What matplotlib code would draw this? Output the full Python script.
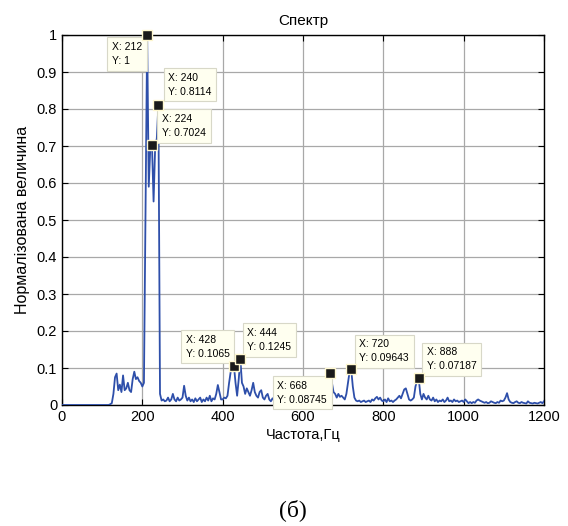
import numpy as np
import matplotlib
matplotlib.use("Agg")
import matplotlib.pyplot as plt

plt.rcParams['font.family'] = ['Liberation Sans', 'DejaVu Sans']

# Frequency grid (Hz), 4 Hz step
freq = list(range(0, 1201, 4))

amp_000 = [0.0] * 25
amp_100 = [0, 0, 0, 0, 0, 0.002, 0.005, 0.03, 0.075, 0.085, 0.04, 0.055, 0.035, 0.08, 0.04,
           0.045, 0.06, 0.04, 0.035, 0.07, 0.09, 0.07, 0.075, 0.065, 0.06]
amp_200 = [0.05, 0.06, 0.52, 1.0, 0.59, 0.70, 0.7024, 0.55, 0.70, 0.72, 0.8114, 0.03, 0.012,
           0.015, 0.01, 0.012, 0.02, 0.01, 0.015, 0.03, 0.015, 0.01, 0.02, 0.012, 0.015]
amp_300 = [0.02, 0.052, 0.025, 0.012, 0.02, 0.01, 0.015, 0.008, 0.018, 0.01, 0.015, 0.02, 0.008,
           0.015, 0.01, 0.02, 0.012, 0.025, 0.01, 0.018, 0.015, 0.03, 0.054, 0.035, 0.015]
amp_400 = [0.015, 0.02, 0.018, 0.025, 0.06, 0.09, 0.1, 0.1065, 0.06, 0.025, 0.07, 0.1245, 0.06,
           0.05, 0.03, 0.045, 0.035, 0.025, 0.04, 0.06, 0.035, 0.025, 0.02, 0.035, 0.04]
amp_500 = [0.02, 0.015, 0.025, 0.03, 0.015, 0.01, 0.018, 0.012, 0.015, 0.01, 0.02, 0.012, 0.015,
           0.01, 0.018, 0.012, 0.015, 0.01, 0.02, 0.012, 0.015, 0.01, 0.018, 0.012, 0.015]
amp_600 = [0.01, 0.02, 0.012, 0.015, 0.01, 0.018, 0.012, 0.02, 0.01, 0.015, 0.012, 0.01, 0.015,
           0.012, 0.02, 0.05, 0.08, 0.08745, 0.06, 0.035, 0.03, 0.02, 0.03, 0.022, 0.025]
amp_700 = [0.02, 0.015, 0.03, 0.06, 0.09, 0.09643, 0.05, 0.02, 0.012, 0.01, 0.012, 0.008, 0.01,
           0.012, 0.008, 0.01, 0.012, 0.008, 0.015, 0.012, 0.018, 0.022, 0.015, 0.02, 0.012]
amp_800 = [0.01, 0.015, 0.008, 0.018, 0.01, 0.012, 0.008, 0.012, 0.015, 0.02, 0.025, 0.018, 0.03,
           0.042, 0.045, 0.03, 0.015, 0.012, 0.015, 0.02, 0.05, 0.065, 0.07187, 0.03, 0.015]
amp_900 = [0.03, 0.02, 0.015, 0.025, 0.015, 0.012, 0.02, 0.01, 0.015, 0.008, 0.012, 0.01, 0.015,
           0.008, 0.012, 0.02, 0.01, 0.012, 0.008, 0.015, 0.01, 0.012, 0.008, 0.01, 0.012]
amp_1000 = [0.008, 0.015, 0.01, 0.005, 0.008, 0.005, 0.008, 0.006, 0.012, 0.015, 0.012, 0.01,
            0.008, 0.006, 0.008, 0.005, 0.006, 0.01, 0.008, 0.006, 0.005, 0.008, 0.006, 0.012, 0.01]
amp_1100 = [0.012, 0.02, 0.032, 0.015, 0.008, 0.006, 0.005, 0.008, 0.01, 0.006, 0.005, 0.008,
            0.006, 0.005, 0.004, 0.01, 0.006, 0.005, 0.004, 0.006, 0.005, 0.004, 0.006, 0.008,
            0.005, 0.01]
amp = (amp_000 + amp_100 + amp_200 + amp_300 + amp_400 + amp_500 + amp_600 + amp_700 +
       amp_800 + amp_900 + amp_1000 + amp_1100)

# Data tips
tip_x = [212, 240, 224, 428, 444, 668, 720, 888]
tip_y = [1, 0.8114, 0.7024, 0.1065, 0.1245, 0.08745, 0.09643, 0.07187]
tip_off = [(-35, -7), (10, 32), (10, 31), (-48, 31), (7, 31), (-53, -8), (8, 30), (8, 31)]

fig = plt.figure(figsize=(5.68, 5.26), dpi=100)
ax = fig.add_axes([62/568, 1-405/526, (544-62)/568, (405-35)/526])

ax.plot(freq, amp, color='#2e4faa', lw=1.3, zorder=3)

ax.set_xlim(0, 1200)
ax.set_ylim(0, 1)
ax.set_xticks([0, 200, 400, 600, 800, 1000, 1200])
ax.set_yticks(np.arange(0, 1.01, 0.1))
ax.set_yticklabels(['0', '0.1', '0.2', '0.3', '0.4', '0.5', '0.6', '0.7', '0.8', '0.9', '1'])
ax.grid(True, color='#a8a8a8', lw=0.9)
ax.tick_params(direction='in', top=True, right=True, labelsize=10.5, length=4)
for s in ax.spines.values():
    s.set_color('black')
    s.set_linewidth(1.0)

ax.set_title('Спектр', fontsize=11, pad=7)
ax.set_xlabel('Частота,Гц', fontsize=10.5, labelpad=3)
ax.set_ylabel('Нормалізована величина', fontsize=11.5, labelpad=5)

for x, y, (dx, dy) in zip(tip_x, tip_y, tip_off):
    ax.plot([x], [y], marker='s', ms=6.5, mfc='#1a1a1a', mec='#fff8d0', mew=1.0,
            zorder=6, clip_on=False)
    ylab = '1' if y == 1 else f'{y:g}'
    ax.annotate(f'X: {x}\nY: {ylab}', xy=(x, y), xytext=(dx, dy), textcoords='offset pixels',
                ha='left', va='top', fontsize=7.5, linespacing=1.5, annotation_clip=False,
                zorder=5,
                bbox=dict(boxstyle='square,pad=0.45', fc='#fffff0', ec='#d8d8c8', lw=0.8))

fig.text(293/568, 1-510/526, '(б)', ha='center', va='center', fontsize=17,
         family=['Liberation Serif', 'DejaVu Serif'])

fig.savefig('out.png', dpi=100)
